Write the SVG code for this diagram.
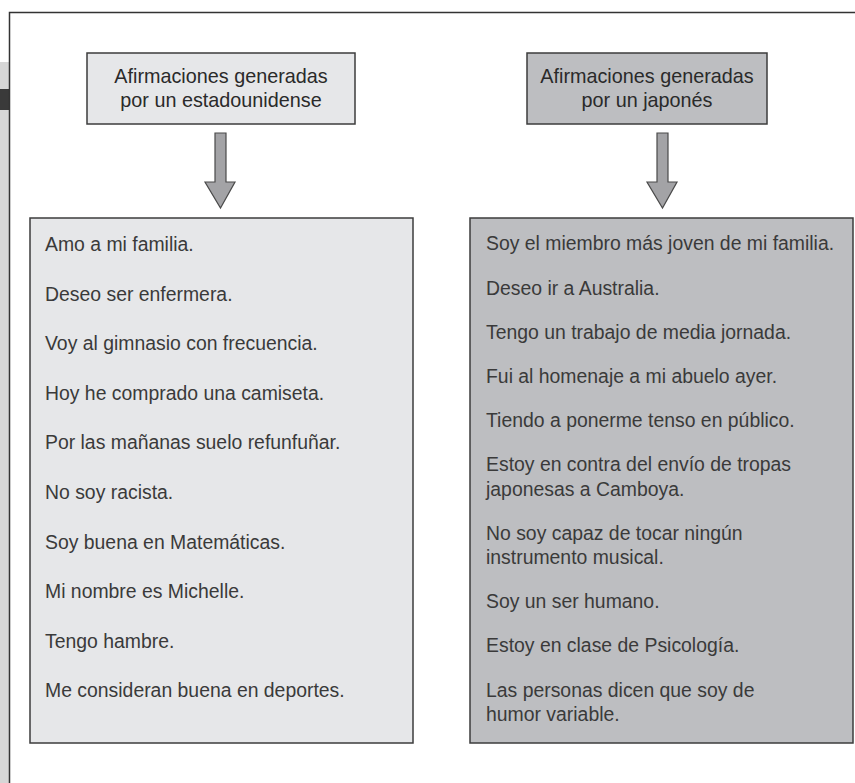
<svg xmlns="http://www.w3.org/2000/svg" width="855" height="783" viewBox="0 0 855 783">
<style>
.box{stroke:#3c3c3c;stroke-width:1.5}
.light{fill:#e6e7e9}
.dark{fill:#bdbec1}
.t{font-family:"Liberation Sans",Arial,sans-serif;font-size:19.4px;fill:#3a3a3a}
.h{font-family:"Liberation Sans",Arial,sans-serif;font-size:19.8px;fill:#2a2a2a;text-anchor:middle}
.arrow{fill:#a3a3a6;stroke:#4a4a4a;stroke-width:1.2}
</style>
<rect width="855" height="783" fill="#ffffff"/>
<g id="side-bar">
<rect x="0" y="62" width="9" height="721" fill="#d6d6d6"/>
<rect x="0" y="89" width="9" height="21" fill="#3a3a3a"/>
</g>
<path d="M9.5 783 V12.5 H855" fill="none" stroke="#333" stroke-width="1.5"/>
<g id="header-us">
<rect class="box light" x="87" y="53" width="268" height="71"/>
<text class="h" x="221" y="83">Afirmaciones generadas</text>
<text class="h" x="221" y="107">por un estadounidense</text>
</g>
<g id="header-jp">
<rect class="box dark" x="527" y="53" width="240" height="71"/>
<text class="h" x="647" y="83">Afirmaciones generadas</text>
<text class="h" x="647" y="107">por un japonés</text>
</g>
<g id="connectors">
<path class="arrow" d="M215 133 H226 V182 H235 L220.5 208 L205 182 H215 Z"/>
<path class="arrow" d="M657 133 H668 V182 H677 L662.5 208 L647 182 H657 Z"/>
</g>
<g id="list-us">
<rect class="box light" x="30" y="218" width="383" height="525"/>
<text class="t" x="45" y="251">Amo a mi familia.</text>
<text class="t" x="45" y="300.6">Deseo ser enfermera.</text>
<text class="t" x="45" y="350.2">Voy al gimnasio con frecuencia.</text>
<text class="t" x="45" y="399.8">Hoy he comprado una camiseta.</text>
<text class="t" x="45" y="449.4">Por las mañanas suelo refunfuñar.</text>
<text class="t" x="45" y="499">No soy racista.</text>
<text class="t" x="45" y="548.6">Soy buena en Matemáticas.</text>
<text class="t" x="45" y="598.2">Mi nombre es Michelle.</text>
<text class="t" x="45" y="647.8">Tengo hambre.</text>
<text class="t" x="45" y="697.4">Me consideran buena en deportes.</text>
</g>
<g id="list-jp">
<rect class="box dark" x="470" y="218" width="383" height="525"/>
<text class="t" x="486" y="250">Soy el miembro más joven de mi familia.</text>
<text class="t" x="486" y="294.5">Deseo ir a Australia.</text>
<text class="t" x="486" y="339">Tengo un trabajo de media jornada.</text>
<text class="t" x="486" y="383">Fui al homenaje a mi abuelo ayer.</text>
<text class="t" x="486" y="427">Tiendo a ponerme tenso en público.</text>
<text class="t" x="486" y="471">Estoy en contra del envío de tropas</text>
<text class="t" x="486" y="495.5">japonesas a Camboya.</text>
<text class="t" x="486" y="539.5">No soy capaz de tocar ningún</text>
<text class="t" x="486" y="564">instrumento musical.</text>
<text class="t" x="486" y="608">Soy un ser humano.</text>
<text class="t" x="486" y="652">Estoy en clase de Psicología.</text>
<text class="t" x="486" y="696.5">Las personas dicen que soy de</text>
<text class="t" x="486" y="721">humor variable.</text>
</g>
</svg>
